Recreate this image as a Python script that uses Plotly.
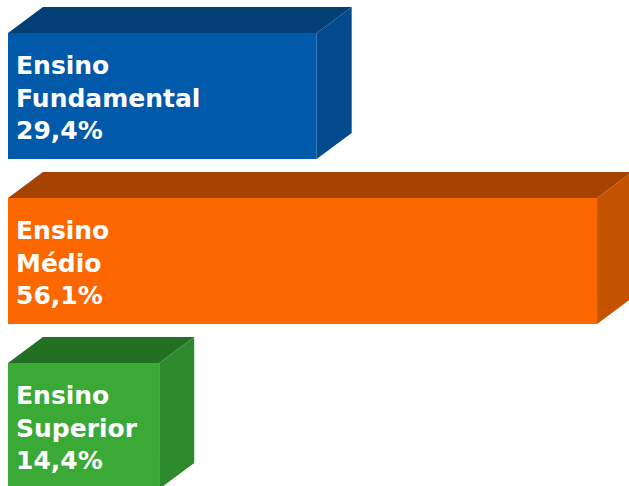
import plotly.graph_objects as go

# Data
categories = ["Ensino<br>Fundamental", "Ensino<br>Médio", "Ensino<br>Superior"]
values = [29.4, 56.1, 14.4]
value_labels = ["29,4%", "56,1%", "14,4%"]

# Styles
front_colors = ["#0059A9", "#FD6700", "#3BA935"]
top_colors = ["#023F75", "#A64300", "#236F23"]
side_colors = ["#034B8D", "#C45300", "#2D8A2D"]

W, H = 629, 486
px_per_unit = 10.5
x0_px = 8
xr = [-x0_px / px_per_unit, (W - x0_px) / px_per_unit]

row_px = 165.0
c0_px = 96.0
yr = [(H - c0_px) / row_px, -c0_px / row_px]  # reversed

bar_h = 126.0 / row_px
dx = 35.0 / px_per_unit
dy = 26.0 / row_px

fig = go.Figure()

def poly(xs, ys, color):
    fig.add_trace(go.Scatter(
        x=xs + [xs[0]], y=ys + [ys[0]], mode="lines", fill="toself",
        fillcolor=color, line=dict(width=0, color=color),
        hoverinfo="skip", showlegend=False))

for i, v in enumerate(values):
    top = i - bar_h / 2
    bot = i + bar_h / 2
    # top face
    poly([0, dx, v + dx, v], [top, top - dy, top - dy, top], top_colors[i])
    # side face
    poly([v, v + dx, v + dx, v], [top, top - dy, bot - dy, bot], side_colors[i])
    # front face
    poly([0, v, v, 0], [top, top, bot, bot], front_colors[i])
    fig.add_annotation(
        x=0, y=i + 0.01, xref="x", yref="y",
        text=f"{categories[i]}<br>{value_labels[i]}",
        showarrow=False, xanchor="left", yanchor="middle", align="left",
        xshift=6,
        font=dict(family="DejaVu Sans", size=25, color="white", weight="bold"))

fig.update_layout(
    width=W, height=H,
    margin=dict(l=0, r=0, t=0, b=0),
    paper_bgcolor="white", plot_bgcolor="white",
    xaxis=dict(range=xr, visible=False, fixedrange=True),
    yaxis=dict(range=yr, visible=False, fixedrange=True),
)

fig.write_html(
    "out.html",
    config={"displayModeBar": False},
    post_script="document.body.style.margin='0';document.body.style.overflow='hidden';",
)
